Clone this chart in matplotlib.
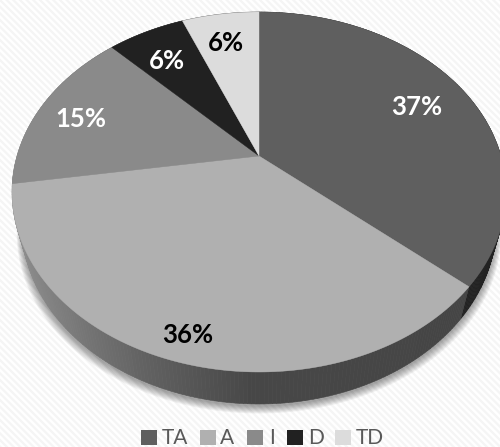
import numpy as np
import matplotlib
matplotlib.use("Agg")
import matplotlib.pyplot as plt
from matplotlib.patches import Polygon, Rectangle

categories = ["TA", "A", "I", "D", "TD"]
values = [37, 36, 15, 6, 6]
labels = ["37%", "36%", "15%", "6%", "6%"]
top_colors = ["#5f5f5f", "#b0b0b0", "#8a8a8a", "#212121", "#dcdcdc"]
label_colors = ["white", "black", "white", "white", "black"]
label_xy = [(417, 107), (188, 335), (81, 119), (167, 61), (226, 43)]
legend_squares = [141, 200, 247, 287, 335]
legend_text = [162, 220, 269, 308, 356]

W, H = 500, 447
fig = plt.figure(figsize=(W / 100, H / 100), dpi=100)
ax = fig.add_axes([0, 0, 1, 1])
ax.set_xlim(0, W)
ax.set_ylim(H, 0)
ax.axis("off")

# background stripes
matplotlib.rcParams["hatch.linewidth"] = 1.6
ax.add_patch(Rectangle((0, 0), W, H, facecolor="white", edgecolor="#f5f5f5",
                       hatch="\\\\\\\\\\", lw=0, zorder=0))

CX, CY, A, B, K, D, S = 259, 156, 172.8, 242, 0.2, 32.5, 0.96


def warp(theta):
    return theta - 0.04 * np.sin(theta / 2)


def project(theta, drop=0.0, scale=1.0):
    th = warp(theta)
    u, v = np.sin(th), np.cos(th)
    w = 1 + K * v
    return CX + scale * B * u / w, CY + (-scale * A * v + drop) / w


def rim_shade(x):
    return np.interp(x, [20, 60, 150, 250, 470], [0.56, 0.50, 0.38, 0.28, 0.27])


full = np.linspace(0, 2 * np.pi, 720)

# soft shadow under the disc
for s in np.linspace(7, 0, 8):
    x, y = project(full, D + 2, S)
    ax.add_patch(Polygon(np.c_[CX + (x - CX) * (1 + s / 320), y + s], closed=True,
                         facecolor="black", alpha=0.05, lw=0, zorder=1))

fractions = np.cumsum([0] + values) / sum(values)

# rim
for i, cat in enumerate(categories):
    t = np.linspace(fractions[i], fractions[i + 1], 160) * 2 * np.pi
    xt, yt = project(t)
    xb, yb = project(t, D, S)
    for j in range(len(t) - 1):
        if cat == "TA":
            col = "#222222"
        else:
            col = str(rim_shade(0.5 * (xb[j] + xb[j + 1])))
        ax.add_patch(Polygon([(xt[j], yt[j]), (xt[j + 1], yt[j + 1]), (xb[j + 1], yb[j + 1]), (xb[j], yb[j])],
                             closed=True, facecolor=col, edgecolor=col, lw=0.4, zorder=2))

# top face, labels, legend
for i, cat in enumerate(categories):
    t = np.linspace(fractions[i], fractions[i + 1], 300) * 2 * np.pi
    xt, yt = project(t)
    ax.add_patch(Polygon(np.r_[[[CX, CY]], np.c_[xt, yt]], closed=True,
                         facecolor=top_colors[i], edgecolor=top_colors[i], lw=0.3, zorder=3))
    ax.text(*label_xy[i], labels[i], color=label_colors[i], fontsize=18.5, fontweight="bold",
            family="Lato", ha="center", va="center", zorder=5)
    ax.add_patch(Rectangle((legend_squares[i], 430), 15.5, 15, facecolor=top_colors[i], lw=0, zorder=4))
    ax.text(legend_text[i], 437.5, cat, color="#595959", fontsize=15, family="Lato",
            ha="left", va="center", zorder=5)

fig.savefig("out.png", dpi=100)
